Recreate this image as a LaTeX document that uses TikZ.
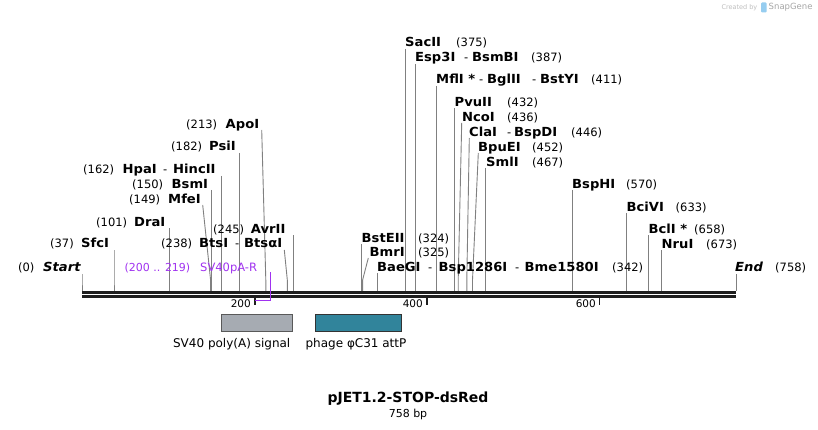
\documentclass[tikz,border=0pt]{standalone}
\usepackage{fontspec}
\setmainfont{DejaVu Sans}
\newfontfamily\enzfont{DejaVu Sans}[FakeStretch=1.05]
\definecolor{primer}{RGB}{160,50,240}
\definecolor{cutgray}{RGB}{128,128,128}
\definecolor{bb}{RGB}{30,30,30}
\definecolor{polyA}{RGB}{166,171,178}
\definecolor{attP}{RGB}{49,132,155}
\definecolor{sglogo}{RGB}{150,205,240}
\tikzset{
  numtxt/.style={anchor=base west, inner sep=0pt, yshift=-4.5pt, font=\fontsize{11.5}{13}\selectfont},
  enz/.style={anchor=base west, inner sep=0pt, yshift=-4.5pt, font=\enzfont\fontsize{12.5}{14}\selectfont\bfseries},
  enzit/.style={anchor=base west, inner sep=0pt, yshift=-4.5pt, font=\enzfont\fontsize{12.5}{14}\selectfont\bfseries\itshape},
  prtxt/.style={anchor=base west, inner sep=0pt, yshift=-4.5pt, text=primer, font=\fontsize{11.5}{13}\selectfont},
  cutline/.style={draw=cutgray, line width=0.9pt},
  backbone/.style={draw=bb, line width=2.7pt},
  tickln/.style={draw=bb, line width=1.8pt},
  ticklbl/.style={anchor=east, inner sep=0pt, font=\fontsize{10.5}{12}\selectfont},
  featbox/.style={anchor=north west, inner sep=0pt, minimum height=16.5pt, line width=0.9pt},
  featlbl/.style={inner sep=0pt, font=\fontsize{12}{14}\selectfont},
  primerln/.style={draw=primer, line width=1.4pt}
}
\newcommand\cutln[4]{%
  \coordinate (#1t) at (#2,#3);
  \coordinate (#1k) at (#4,280);
  \coordinate (#1s) at (#4,291.3);
  \draw[cutline] (#1t) -- (#1k) -- (#1s);}
\begin{document}
\begin{tikzpicture}[x=1pt,y=-1pt]
\useasboundingbox (0,0) rectangle (818,430);
\fill[white] (0,0) rectangle (818,430);

% ---------- cut lines ----------
\cutln{Start}{82}{274}{82}
\cutln{SfcI}{114}{250}{114}
\cutln{DraI}{169.3}{228}{169.3}
\cutln{MfeI}{202.7}{205}{210.6}
\cutln{BsmI}{211.5}{190}{211.5}
\cutln{HpaI}{221.8}{176}{221.8}
\cutln{PsiI}{239.2}{153}{239.2}
\cutln{ApoI}{261.7}{130}{265.8}
\cutln{BtsI}{284.3}{250}{287.3}
\cutln{AvrII}{293.4}{235}{293.4}
\cutln{BstEII}{361.8}{244}{361.8}
\cutln{BmrI}{368.3}{258}{362.6}
\cutln{BaeGI}{377.3}{273}{377.3}
\cutln{SacII}{405.6}{49}{405.6}
\cutln{Esp}{415.5}{64}{415.5}
\cutln{MflI}{436.6}{86}{436.6}
\cutln{PvuII}{454.7}{108}{454.7}
\cutln{NcoI}{461.7}{123}{458.2}
\cutln{ClaI}{469.3}{138}{466.8}
\cutln{BpuEI}{478.3}{153}{472.5}
\cutln{SmlI}{485.3}{168}{485.3}
\cutln{BspHI}{572.8}{190}{572.8}
\cutln{BciVI}{626.8}{213}{626.8}
\cutln{BclI}{648.8}{235}{648.8}
\cutln{NruI}{661.5}{250}{661.5}
\cutln{End}{736}{274}{736}

% ---------- backbone ----------
\coordinate (bbL1) at (82,292.7);
\coordinate (bbR1) at (736,292.7);
\coordinate (bbL2) at (82,296.5);
\coordinate (bbR2) at (736,296.5);
\draw[backbone] (bbL1) -- (bbR1);
\draw[backbone, line width=2.5pt] (bbL2) -- (bbR2);

% ticks
\coordinate (t200a) at (254.6,297.5); \coordinate (t200b) at (254.6,305);
\coordinate (t400a) at (427,297.5);   \coordinate (t400b) at (427,305);
\coordinate (t600a) at (599.5,297.5); \coordinate (t600b) at (599.5,305);
\draw[tickln] (t200a) -- (t200b);
\draw[tickln] (t400a) -- (t400b);
\draw[tickln] (t600a) -- (t600b);
\node[ticklbl] (l200) at (251,304) {200};
\node[ticklbl] (l400) at (423,304) {400};
\node[ticklbl] (l600) at (596,304) {600};

% ---------- primer ----------
\coordinate (prA) at (270.6,272);
\coordinate (prB) at (270.6,300.7);
\coordinate (prC) at (254.6,300.7);
\draw[primerln] (prA) -- (prB) -- (prC);
\node[prtxt, anchor=base east, font=\fontsize{11}{13}\selectfont] (prpos) at (190.5,267) {(200 .. 219)};
\node[prtxt] (prname) at (200,267) {SV40pA-R};

% ---------- left labels ----------
\node[numtxt] (n0) at (18,267) {(0)};
\node[enzit] (lStart) at (43,267) {Start};
\node[numtxt] (n37) at (50,243) {(37)};
\node[enz] (lSfcI) at (81,243) {SfcI};
\node[numtxt] (n101) at (96,222) {(101)};
\node[enz] (lDraI) at (134,222) {DraI};
\node[numtxt] (n149) at (129,199) {(149)};
\node[enz] (lMfeI) at (168,199) {MfeI};
\node[numtxt] (n150) at (132,184) {(150)};
\node[enz] (lBsmI) at (171.5,184) {BsmI};
\node[numtxt] (n162) at (83,169) {(162)};
\node[enz] (lHpaI) at (122.5,169) {HpaI};
\node[numtxt] (dHpa) at (163,169) {-};
\node[enz] (lHincII) at (173,169) {HincII};
\node[numtxt] (n182) at (171,146) {(182)};
\node[enz] (lPsiI) at (209,146) {PsiI};
\node[numtxt] (n213) at (186,124) {(213)};
\node[enz] (lApoI) at (225.5,124) {ApoI};
\node[numtxt] (n238) at (161,243) {(238)};
\node[enz] (lBtsI) at (199,243) {BtsI};
\node[numtxt] (dBts) at (235,243) {-};
\node[enz] (lBtsaI) at (244,243) {BtsαI};
\node[numtxt] (n245) at (213,229) {(245)};
\node[enz] (lAvrII) at (250.7,229) {AvrII};

% ---------- right labels ----------
\node[enz] (rBstEII) at (361.5,238) {BstEII};
\node[numtxt] (n324) at (418,238) {(324)};
\node[enz] (rBmrI) at (369.5,252) {BmrI};
\node[numtxt] (n325) at (418,252) {(325)};
\node[enz] (rBaeGI) at (377,267) {BaeGI};
\node[numtxt] (dBae1) at (428,267) {-};
\node[enz] (rBsp) at (438.5,267) {Bsp1286I};
\node[numtxt] (dBae2) at (515,267) {-};
\node[enz] (rBme) at (524.5,267) {Bme1580I};
\node[numtxt] (n342) at (612,267) {(342)};
\node[enz] (rSacII) at (405,42) {SacII};
\node[numtxt] (n375) at (456,42) {(375)};
\node[enz] (rEsp) at (415,57) {Esp3I};
\node[numtxt] (dEsp) at (464,57) {-};
\node[enz] (rBsmBI) at (472,57) {BsmBI};
\node[numtxt] (n387) at (531,57) {(387)};
\node[enz] (rMflI) at (436,79) {MflI *};
\node[numtxt] (dMfl1) at (479,79) {-};
\node[enz] (rBglII) at (487,79) {BglII};
\node[numtxt] (dMfl2) at (532,79) {-};
\node[enz] (rBstYI) at (540,79) {BstYI};
\node[numtxt] (n411) at (591,79) {(411)};
\node[enz] (rPvuII) at (454.5,102) {PvuII};
\node[numtxt] (n432) at (507,102) {(432)};
\node[enz] (rNcoI) at (462,117) {NcoI};
\node[numtxt] (n436) at (507,117) {(436)};
\node[enz] (rClaI) at (469,132) {ClaI};
\node[numtxt] (dCla) at (507,132) {-};
\node[enz] (rBspDI) at (514,132) {BspDI};
\node[numtxt] (n446) at (571,132) {(446)};
\node[enz] (rBpuEI) at (478,147) {BpuEI};
\node[numtxt] (n452) at (532,147) {(452)};
\node[enz] (rSmlI) at (486,162) {SmlI};
\node[numtxt] (n467) at (532,162) {(467)};
\node[enz] (rBspHI) at (572,184) {BspHI};
\node[numtxt] (n570) at (626,184) {(570)};
\node[enz] (rBciVI) at (626.5,207) {BciVI};
\node[numtxt] (n633) at (675.5,207) {(633)};
\node[enz] (rBclI) at (648.5,229) {BclI *};
\node[numtxt] (n658) at (694,229) {(658)};
\node[enz] (rNruI) at (661.5,244) {NruI};
\node[numtxt] (n673) at (706,244) {(673)};
\node[enzit] (rEnd) at (735,267) {End};
\node[numtxt] (n758) at (775,267) {(758)};

% ---------- features ----------
\node[featbox, draw=black!65, fill=polyA, minimum width=71pt] (svbox) at (221.3,314) {};
\node[featbox, draw=black!80, fill=attP, minimum width=86pt] (attbox) at (315.3,314) {};
\node[featlbl, anchor=east] (svlbl) at (290.5,344) {SV40 poly(A) signal};
\node[featlbl] (attlbl) at (356,344) {phage φC31 attP};

% ---------- title ----------
\node[inner sep=0pt, font=\fontsize{14}{16}\selectfont\bfseries] (title) at (408,399) {pJET1.2-STOP-dsRed};
\node[inner sep=0pt, font=\fontsize{11}{13}\selectfont] (bp) at (408,414) {758 bp};

% ---------- watermark ----------
\node[inner sep=0pt, anchor=east, text=black!25, font=\fontsize{6.5}{8}\selectfont] (cby) at (757.5,7.5) {Created by};
\fill[sglogo, rounded corners=1pt] (761,2.5) rectangle (766.5,12.5);
\node[inner sep=0pt, anchor=west, text=black!35, font=\fontsize{8.5}{10}\selectfont] (sg) at (768.5,7.5) {SnapGene};
\end{tikzpicture}
\end{document}
